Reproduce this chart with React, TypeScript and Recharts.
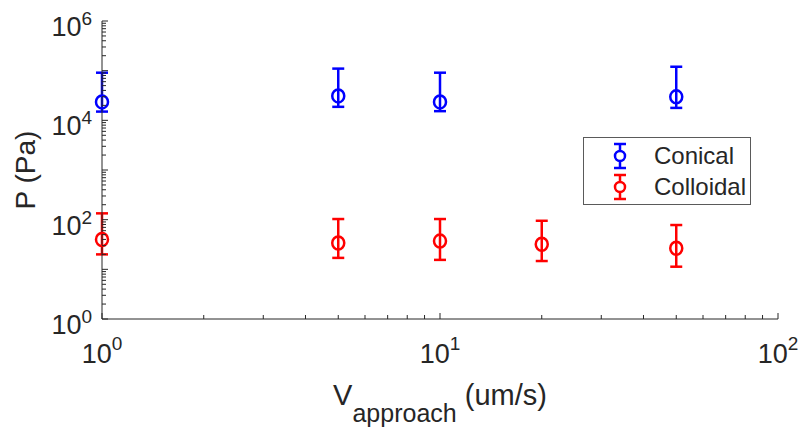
import { ScatterChart, Scatter, XAxis, YAxis, ErrorBar, Legend } from 'recharts';

// approach speed (um/s) and pressure (Pa), with lower / upper error limits
const conicalV = [1, 5, 10, 50];
const conicalP = [23500, 31000, 23500, 29700];
const conicalLow = [15000, 18700, 15300, 17800];
const conicalHigh = [91000, 110000, 91000, 120000];

const colloidalV = [1, 5, 10, 20, 50];
const colloidalP = [40, 34, 37, 32, 26.5];
const colloidalLow = [20, 17, 15.5, 14.7, 11.3];
const colloidalHigh = [134, 103, 103, 95, 78];

const seriesOrder = ['Conical', 'Colloidal'];

const xDecades = [1, 10, 100];
const yDecades = [1, 10, 100, 1000, 10000, 100000, 1000000];
const minorSteps = [2, 3, 4, 5, 6, 7, 8, 9];
const yLabeled = [1, 100, 10000, 1000000];

const BLUE = '#0000ff';
const RED = '#ff0000';
const INK = '#262626';
const FONT = '"Liberation Sans", Arial, Helvetica, sans-serif';

const withMinors = (decades: number[]) => {
  const out: number[] = [];
  decades.forEach((d, i) => {
    out.push(d);
    if (i < decades.length - 1) minorSteps.forEach((m) => out.push(d * m));
  });
  return out;
};
const xTicks = withMinors(xDecades);
const yTicks = withMinors(yDecades);

const toRows = (v: number[], p: number[], lo: number[], hi: number[]) =>
  v.map((x, i) => ({ v: x, p: p[i], err: [p[i] - lo[i], hi[i] - p[i]] }));

const conical = toRows(conicalV, conicalP, conicalLow, conicalHigh);
const colloidal = toRows(colloidalV, colloidalP, colloidalLow, colloidalHigh);

const isDecade = (v: number) => Math.abs(Math.log10(v) - Math.round(Math.log10(v))) < 1e-9;

const YTick = (props: any) => {
  const { x, y, payload } = props;
  const v = payload.value;
  const len = isDecade(v) ? 6 : 4;
  return (
    <g>
      <line x1={x} y1={y} x2={x + len} y2={y} stroke={INK} strokeWidth={1} />
      {yLabeled.includes(v) && (
        <text x={x - 10} y={y + 15} textAnchor="end" fill={INK} fontSize={27} fontFamily={FONT}>
          10
          <tspan dy={-11} fontSize={19}>
            {Math.round(Math.log10(v))}
          </tspan>
        </text>
      )}
    </g>
  );
};

const XTick = (props: any) => {
  const { x, y, payload } = props;
  const v = payload.value;
  const major = isDecade(v);
  return (
    <g>
      <line x1={x} y1={y} x2={x} y2={y - (major ? 6 : 4)} stroke={INK} strokeWidth={1} />
      {major && (
        <text x={x} y={y + 44} textAnchor="middle" fill={INK} fontSize={27} fontFamily={FONT}>
          10
          <tspan dy={-13} fontSize={19}>
            {Math.round(Math.log10(v))}
          </tspan>
        </text>
      )}
    </g>
  );
};

const Ring = (color: string) => (props: any) => (
  <ellipse cx={props.cx} cy={props.cy} rx={6} ry={6.5} fill="none" stroke={color} strokeWidth={2.5} />
);

const LegendIcon = ({ color }: { color: string }) => (
  <svg width={24} height={28}>
    <line x1={12} y1={2} x2={12} y2={26} stroke={color} strokeWidth={2.5} />
    <line x1={6} y1={2} x2={18} y2={2} stroke={color} strokeWidth={2.5} />
    <line x1={6} y1={26} x2={18} y2={26} stroke={color} strokeWidth={2.5} />
    <circle cx={12} cy={14} r={5} fill="#fff" stroke={color} strokeWidth={2.5} />
  </svg>
);

const LegendBox = (props: any) => {
  const items = [...(props.payload || [])].sort(
    (a: any, b: any) => seriesOrder.indexOf(a.value) - seriesOrder.indexOf(b.value),
  );
  return (
    <div
      style={{
        width: 166,
        height: 64,
        boxSizing: 'content-box',
        border: '1px solid #5a5a5a',
        background: '#fff',
        fontFamily: FONT,
        fontSize: 24,
        color: INK,
        paddingTop: 2,
      }}
    >
      {items.map((entry: any) => (
        <div key={entry.value} style={{ display: 'flex', alignItems: 'center', height: 31 }}>
          <div style={{ width: 24, marginLeft: 24, marginRight: 22, display: 'flex' }}>
            <LegendIcon color={entry.color} />
          </div>
          <span>{entry.value}</span>
        </div>
      ))}
    </div>
  );
};

const XLabel = (props: any) => {
  const { viewBox } = props;
  const cx = viewBox.x + viewBox.width / 2;
  return (
    <text x={cx} y={405} textAnchor="middle" fill={INK} fontSize={29} fontFamily={FONT}>
      V
      <tspan dy={17} fontSize={25}>
        approach
      </tspan>
      <tspan dy={-17}> (um/s)</tspan>
    </text>
  );
};

const YLabel = () => (
  <text
    x={35}
    y={170}
    transform="rotate(-90 35 170)"
    textAnchor="middle"
    fill={INK}
    fontSize={28}
    fontFamily={FONT}
  >
    P (Pa)
  </text>
);

export default function App() {
  return (
    <div style={{ position: 'absolute', left: 0, top: 0, width: 804, height: 428, background: '#fff' }}>
      <ScatterChart width={804} height={428} margin={{ top: 21, right: 26, left: 42, bottom: 49 }}>
        <XAxis
          dataKey="v"
          type="number"
          scale="log"
          domain={[1, 100]}
          ticks={xTicks}
          interval={0}
          tick={<XTick />}
          tickLine={false}
          tickSize={0}
          tickMargin={0}
          height={60}
          axisLine={{ stroke: INK, strokeWidth: 1 }}
          label={<XLabel />}
        />
        <YAxis
          dataKey="p"
          type="number"
          scale="log"
          domain={[1, 1000000]}
          ticks={yTicks}
          interval={0}
          tick={<YTick />}
          tickLine={false}
          tickSize={0}
          tickMargin={0}
          width={60}
          axisLine={{ stroke: INK, strokeWidth: 1 }}
          label={<YLabel />}
        />
        <Legend
          layout="horizontal"
          verticalAlign="middle"
          content={<LegendBox />}
          wrapperStyle={{ left: 583, top: 137, width: 'auto', height: 'auto' }}
        />
        <Scatter name="Conical" data={conical} fill={BLUE} shape={Ring(BLUE)} isAnimationActive={false}>
          <ErrorBar dataKey="err" direction="y" width={6} stroke={BLUE} strokeWidth={2.5} isAnimationActive={false} />
        </Scatter>
        <Scatter name="Colloidal" data={colloidal} fill={RED} shape={Ring(RED)} isAnimationActive={false}>
          <ErrorBar dataKey="err" direction="y" width={6} stroke={RED} strokeWidth={2.5} isAnimationActive={false} />
        </Scatter>
      </ScatterChart>
    </div>
  );
}
